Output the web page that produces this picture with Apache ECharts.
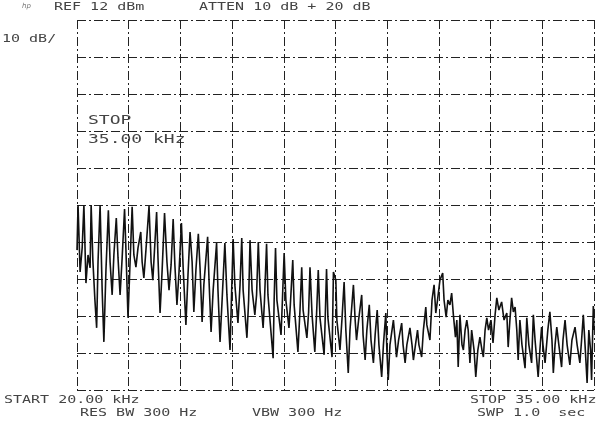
<!DOCTYPE html>
<html>
<head>
<meta charset="utf-8">
<title>spectrum 20-35 kHz</title>
<script src="https://cdn.jsdelivr.net/npm/echarts/dist/echarts.min.js"></script>
<style>
  html, body { margin: 0; padding: 0; background: #fff; }
  #main { width: 600px; height: 423px; }
</style>
</head>
<body>
<div id="main"></div>
<script>
// sweep limits (kHz)
var startKHz = 20;
var stopKHz = 35;
// level scale: dB relative to the reference level, 10 dB/div
var levelTop = 0;
var levelBottom = -100;
var levelStep = 10;
// graticule: 10 divisions across
var xDivisions = 10;

// header / footer annotations
var headerTexts = ['REF 12 dBm', 'ATTEN 10 dB + 20 dB'];
var scaleText = '10 dB/';
var markerTexts = ['STOP', '35.00 kHz'];
var footerTexts = ['START 20.00 kHz', 'STOP 35.00 kHz', 'RES BW 300 Hz', 'VBW 300 Hz', 'SWP 1.0  sec'];

// trace: [frequency kHz, level dB re REF]
var trace = [
  [20.00,-62.2],[20.03,-50.0],[20.09,-68.1],[20.15,-61.6],[20.20,-50.0],[20.26,-71.1],[20.32,-63.5],[20.38,-67.0],
  [20.41,-50.0],[20.46,-64.9],[20.52,-75.7],[20.57,-83.2],[20.61,-65.4],[20.67,-50.0],[20.73,-73.0],[20.78,-87.0],
  [20.84,-67.6],[20.91,-51.4],[20.96,-65.4],[21.02,-74.3],[21.07,-63.5],[21.14,-53.5],[21.19,-64.3],[21.25,-74.3],
  [21.31,-64.3],[21.38,-51.1],[21.42,-62.2],[21.48,-80.5],[21.54,-65.4],[21.60,-50.5],[21.65,-63.5],[21.71,-66.8],
  [21.77,-61.6],[21.85,-57.3],[21.89,-65.4],[21.94,-69.7],[22.00,-62.2],[22.09,-50.3],[22.15,-65.4],[22.20,-70.3],
  [22.31,-51.9],[22.35,-64.3],[22.41,-79.2],[22.47,-67.6],[22.54,-52.2],[22.61,-65.4],[22.67,-73.0],[22.73,-66.2],
  [22.79,-53.8],[22.84,-66.2],[22.90,-77.0],[22.96,-68.1],[23.03,-54.9],[23.08,-67.0],[23.16,-82.4],[23.22,-68.9],
  [23.28,-57.3],[23.34,-65.4],[23.39,-78.9],[23.45,-67.6],[23.52,-57.8],[23.57,-67.0],[23.63,-81.6],[23.68,-71.6],
  [23.79,-58.6],[23.83,-70.3],[23.89,-84.3],[23.95,-73.0],[24.05,-60.3],[24.09,-73.0],[24.15,-87.0],[24.21,-75.7],
  [24.29,-60.3],[24.35,-74.3],[24.44,-89.2],[24.48,-75.7],[24.53,-59.2],[24.58,-71.6],[24.67,-81.9],[24.73,-71.6],
  [24.78,-58.9],[24.82,-73.0],[24.93,-85.9],[24.98,-75.7],[25.02,-59.5],[25.08,-73.0],[25.16,-79.7],[25.21,-74.3],
  [25.26,-60.0],[25.31,-73.0],[25.40,-83.2],[25.44,-75.7],[25.50,-60.5],[25.54,-74.3],[25.69,-91.4],[25.72,-75.7],
  [25.76,-61.6],[25.80,-75.7],[25.92,-85.1],[25.96,-75.7],[26.01,-63.0],[26.06,-75.7],[26.15,-83.2],[26.19,-77.0],
  [26.26,-64.9],[26.30,-77.0],[26.41,-89.7],[26.47,-78.4],[26.52,-66.8],[26.56,-78.4],[26.67,-85.9],[26.72,-78.9],
  [26.76,-66.8],[26.82,-79.7],[26.90,-89.7],[26.95,-79.7],[27.00,-67.6],[27.05,-80.5],[27.17,-90.5],[27.20,-81.1],
  [27.24,-67.3],[27.28,-80.5],[27.40,-91.1],[27.44,-68.1],
  [27.51,-70.3],[27.54,-81.1],[27.63,-89.2],[27.69,-80.5],[27.75,-70.8],[27.80,-83.8],[27.87,-95.4],[27.92,-83.8],
  [28.02,-71.6],[28.07,-81.1],[28.11,-86.5],[28.17,-81.1],[28.26,-74.3],[28.30,-85.1],[28.36,-91.9],[28.41,-83.8],
  [28.48,-77.0],[28.53,-86.5],[28.60,-92.7],[28.65,-85.1],[28.71,-78.4],[28.76,-87.8],[28.84,-96.5],[28.89,-87.8],
  [28.96,-79.2],[28.99,-89.2],[29.03,-97.3],[29.08,-87.8],[29.18,-81.1],[29.23,-86.5],[29.27,-91.1],[29.33,-86.5],
  [29.42,-81.9],[29.46,-87.8],[29.52,-92.7],[29.57,-87.8],[29.66,-83.2],[29.72,-87.8],[29.76,-91.9],[29.82,-87.8],
  [29.88,-83.8],[29.92,-87.8],[30.00,-91.1],[30.05,-83.8],[30.12,-77.6],[30.15,-82.4],[30.24,-86.5],[30.30,-75.7],
  [30.36,-71.6],[30.41,-79.2],[30.46,-75.7],[30.53,-70.3],[30.61,-68.4],[30.65,-75.7],[30.71,-80.3],[30.76,-75.7],
  [30.82,-77.0],[30.87,-73.8],[30.92,-79.7],[30.98,-85.7],[31.02,-81.1],[31.06,-93.8],[31.11,-79.7],[31.17,-87.8],
  [31.21,-89.2],[31.26,-83.8],[31.31,-81.1],
  [31.35,-83.8],[31.40,-92.7],[31.45,-83.8],[31.52,-89.2],[31.57,-96.5],[31.63,-89.2],[31.69,-85.7],[31.75,-89.2],
  [31.79,-91.1],[31.84,-83.8],[31.89,-80.5],[31.94,-83.8],[32.01,-81.1],[32.07,-87.3],[32.13,-79.7],[32.18,-75.1],
  [32.24,-78.4],[32.32,-76.2],[32.39,-81.1],[32.47,-79.2],[32.51,-88.4],[32.56,-81.1],[32.61,-75.1],[32.66,-78.9],
  [32.71,-77.6],[32.76,-83.8],[32.80,-91.9],[32.85,-81.1],[32.91,-87.8],[33.00,-94.1],[33.05,-80.5],[33.11,-87.8],
  [33.19,-92.7],[33.24,-79.7],[33.29,-86.5],[33.38,-96.5],[33.43,-89.2],[33.48,-83.0],[33.52,-87.8],[33.58,-92.7],
  [33.66,-83.8],[33.72,-78.9],[33.78,-86.5],[33.82,-95.4],[33.87,-87.8],[33.92,-83.0],[33.98,-87.8],[34.06,-93.8],
  [34.10,-86.5],[34.16,-81.1],[34.22,-87.8],[34.30,-93.2],[34.36,-86.5],[34.45,-83.0],[34.51,-87.8],[34.59,-92.7],
  [34.64,-86.5],[34.69,-79.7],[34.74,-87.8],[34.80,-98.1],[34.85,-83.8],[34.90,-89.2],[34.93,-97.3],[34.98,-77.3],
  [35.00,-83.8]
];

var ink = '#111';
var textInk = '#444';
var gridLine = { color: '#222', width: 1, type: [9, 3, 2, 3] };

// plotter style lettering: monospace stretched sideways
function label(str, x, y, size) {
  return {
    type: 'text',
    x: x,
    y: y,
    scaleX: 1.5,
    silent: true,
    style: {
      text: str,
      fill: textInk,
      font: (size || 10) + 'px "DejaVu Sans Mono"',
      verticalAlign: 'middle'
    }
  };
}

var myChart = echarts.init(document.getElementById('main'), null, { renderer: 'canvas' });

var option = {
  backgroundColor: '#fff',
  animation: false,
  grid: {
    left: 77,
    right: 6,
    top: 20,
    bottom: 33
  },
  xAxis: [{
    // frequency axis used by the trace
    type: 'value',
    min: startKHz,
    max: stopKHz,
    show: false
  }, {
    // graticule divisions
    type: 'value',
    min: 0,
    max: xDivisions,
    interval: 1,
    axisLine: { show: false },
    axisTick: { show: false },
    axisLabel: { show: false },
    splitLine: { show: true, lineStyle: gridLine }
  }],
  yAxis: {
    type: 'value',
    min: levelBottom,
    max: levelTop,
    interval: levelStep,
    axisLine: { show: false },
    axisTick: { show: false },
    axisLabel: { show: false },
    splitLine: { show: true, lineStyle: gridLine }
  },
  series: [{
    type: 'line',
    xAxisIndex: 0,
    yAxisIndex: 0,
    data: trace,
    showSymbol: false,
    smooth: false,
    lineStyle: { color: ink, width: 1.6 }
  }],
  graphic: [
    {
      type: 'text', x: 22, y: 6, silent: true,
      style: { text: 'hp', fill: '#777', font: 'italic 7px "DejaVu Sans"', verticalAlign: 'middle' }
    },
    label(headerTexts[0], 54, 7),
    label(headerTexts[1], 199, 7),
    label(scaleText, 2, 39),
    label(markerTexts[0], 88, 121, 12),
    label(markerTexts[1], 88, 140, 12),
    label(footerTexts[0], 4, 400),
    label(footerTexts[1], 470, 400),
    label(footerTexts[2], 80, 413),
    label(footerTexts[3], 252, 413),
    label(footerTexts[4], 477, 413)
  ]
};

myChart.setOption(option);
</script>
</body>
</html>
